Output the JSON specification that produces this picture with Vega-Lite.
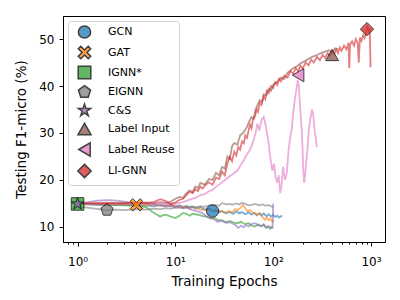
{
  "$schema": "https://vega.github.io/schema/vega-lite/v6.json",
  "width": 322,
  "height": 226,
  "autosize": {"type": "none"},
  "padding": {"left": 63, "top": 16, "right": 15, "bottom": 58},
  "config": {
    "font": "DejaVu Sans",
    "view": {"stroke": "black", "strokeWidth": 1},
    "axis": {"grid": false, "domainColor": "black", "tickColor": "black", "labelColor": "black", "titleColor": "black", "labelFontSize": 12, "titleFontSize": 13.5, "titleFontWeight": "normal", "labelFont": "DejaVu Sans", "titleFont": "DejaVu Sans"},
    "legend": {"orient": "none", "legendX": 5, "legendY": 5, "labelFontSize": 11, "labelColor": "black", "strokeColor": "#d0d0d0", "fillColor": "rgba(255,255,255,0.8)", "cornerRadius": 3, "padding": 4, "rowPadding": 0.5, "symbolOffset": 5, "labelOffset": 16}
  },
  "datasets": {
    "lines": [
      {"m":"GCN","e":1,"v":14.9},{"m":"GCN","e":1.5,"v":14.7},{"m":"GCN","e":2,"v":14.6},{"m":"GCN","e":3,"v":14.8},{"m":"GCN","e":4,"v":14.5},{"m":"GCN","e":5,"v":14.6},{"m":"GCN","e":6,"v":14.4},{"m":"GCN","e":7,"v":14.7},{"m":"GCN","e":8,"v":14.5},{"m":"GCN","e":9,"v":14.8},{"m":"GCN","e":10,"v":14.3},{"m":"GCN","e":11,"v":14.6},{"m":"GCN","e":12,"v":14.2},{"m":"GCN","e":13,"v":14.5},{"m":"GCN","e":14,"v":14.1},{"m":"GCN","e":15,"v":14.4},{"m":"GCN","e":16,"v":13.9},{"m":"GCN","e":18,"v":14.2},{"m":"GCN","e":20,"v":13.7},{"m":"GCN","e":22,"v":13.9},{"m":"GCN","e":24,"v":13.4},{"m":"GCN","e":26,"v":13.6},{"m":"GCN","e":28,"v":13.1},{"m":"GCN","e":30,"v":13.4},{"m":"GCN","e":33,"v":12.9},{"m":"GCN","e":36,"v":13.2},{"m":"GCN","e":39,"v":12.8},{"m":"GCN","e":42,"v":13.3},{"m":"GCN","e":45,"v":12.9},{"m":"GCN","e":48,"v":13.2},{"m":"GCN","e":52,"v":12.7},{"m":"GCN","e":56,"v":13.1},{"m":"GCN","e":60,"v":12.6},{"m":"GCN","e":64,"v":13.0},{"m":"GCN","e":68,"v":12.5},{"m":"GCN","e":72,"v":12.9},{"m":"GCN","e":76,"v":12.4},{"m":"GCN","e":80,"v":12.9},{"m":"GCN","e":85,"v":12.3},{"m":"GCN","e":90,"v":12.7},{"m":"GCN","e":95,"v":12.2},{"m":"GCN","e":100,"v":12.6},{"m":"GCN","e":105,"v":12.1},{"m":"GCN","e":110,"v":12.4},{"m":"GCN","e":115,"v":12.0},{"m":"GCN","e":120,"v":12.3},{"m":"GCN","e":123,"v":12.2},
      {"m":"GAT","e":1,"v":14.8},{"m":"GAT","e":1.5,"v":14.9},{"m":"GAT","e":2,"v":14.7},{"m":"GAT","e":3,"v":14.8},{"m":"GAT","e":4,"v":14.7},{"m":"GAT","e":5,"v":14.6},{"m":"GAT","e":6,"v":14.8},{"m":"GAT","e":7,"v":14.5},{"m":"GAT","e":8,"v":14.7},{"m":"GAT","e":9,"v":14.4},{"m":"GAT","e":10,"v":14.6},{"m":"GAT","e":11,"v":14.2},{"m":"GAT","e":12,"v":14.4},{"m":"GAT","e":14,"v":14.0},{"m":"GAT","e":16,"v":14.2},{"m":"GAT","e":18,"v":13.7},{"m":"GAT","e":20,"v":13.6},{"m":"GAT","e":22,"v":13.9},{"m":"GAT","e":25,"v":13.3},{"m":"GAT","e":28,"v":13.5},{"m":"GAT","e":32,"v":13.0},{"m":"GAT","e":35,"v":13.4},{"m":"GAT","e":38,"v":13.1},{"m":"GAT","e":41,"v":13.8},{"m":"GAT","e":44,"v":13.6},{"m":"GAT","e":47,"v":14.2},{"m":"GAT","e":49,"v":14.7},{"m":"GAT","e":52,"v":14.0},{"m":"GAT","e":55,"v":13.3},{"m":"GAT","e":58,"v":13.6},{"m":"GAT","e":62,"v":13.0},{"m":"GAT","e":66,"v":12.9},{"m":"GAT","e":70,"v":12.6},{"m":"GAT","e":74,"v":12.9},{"m":"GAT","e":78,"v":12.1},{"m":"GAT","e":82,"v":11.5},{"m":"GAT","e":86,"v":12.0},{"m":"GAT","e":90,"v":11.4},{"m":"GAT","e":94,"v":11.8},{"m":"GAT","e":98,"v":11.1},{"m":"GAT","e":101,"v":11.5},
      {"m":"IGNN*","e":1,"v":14.9},{"m":"IGNN*","e":2,"v":14.8},{"m":"IGNN*","e":3,"v":14.6},{"m":"IGNN*","e":4,"v":14.5},{"m":"IGNN*","e":5,"v":14.2},{"m":"IGNN*","e":5.5,"v":13.6},{"m":"IGNN*","e":6,"v":13.0},{"m":"IGNN*","e":6.5,"v":12.6},{"m":"IGNN*","e":7,"v":12.2},{"m":"IGNN*","e":7.5,"v":12.5},{"m":"IGNN*","e":8,"v":12.6},{"m":"IGNN*","e":9,"v":12.2},{"m":"IGNN*","e":10,"v":11.9},{"m":"IGNN*","e":11,"v":12.4},{"m":"IGNN*","e":12,"v":13.0},{"m":"IGNN*","e":13,"v":12.8},{"m":"IGNN*","e":14,"v":12.4},{"m":"IGNN*","e":15,"v":12.8},{"m":"IGNN*","e":17,"v":12.6},{"m":"IGNN*","e":19,"v":12.3},{"m":"IGNN*","e":21,"v":12.2},{"m":"IGNN*","e":23,"v":11.8},{"m":"IGNN*","e":25,"v":12.0},{"m":"IGNN*","e":27,"v":11.5},{"m":"IGNN*","e":30,"v":11.4},{"m":"IGNN*","e":33,"v":11.0},{"m":"IGNN*","e":36,"v":11.3},{"m":"IGNN*","e":40,"v":10.9},{"m":"IGNN*","e":43,"v":10.8},{"m":"IGNN*","e":47,"v":11.1},{"m":"IGNN*","e":51,"v":10.6},{"m":"IGNN*","e":56,"v":10.8},{"m":"IGNN*","e":60,"v":10.3},{"m":"IGNN*","e":65,"v":10.1},{"m":"IGNN*","e":70,"v":10.5},{"m":"IGNN*","e":75,"v":10.2},{"m":"IGNN*","e":80,"v":10.4},{"m":"IGNN*","e":85,"v":9.8},{"m":"IGNN*","e":89,"v":10.1},{"m":"IGNN*","e":93,"v":9.6},{"m":"IGNN*","e":97,"v":10.0},{"m":"IGNN*","e":100,"v":9.9},
      {"m":"EIGNN","e":1,"v":14.4},{"m":"EIGNN","e":1.5,"v":13.9},{"m":"EIGNN","e":2,"v":13.6},{"m":"EIGNN","e":2.5,"v":13.7},{"m":"EIGNN","e":3,"v":13.6},{"m":"EIGNN","e":4,"v":13.8},{"m":"EIGNN","e":5,"v":13.7},{"m":"EIGNN","e":6,"v":13.9},{"m":"EIGNN","e":7,"v":13.8},{"m":"EIGNN","e":8,"v":14.0},{"m":"EIGNN","e":9,"v":13.9},{"m":"EIGNN","e":10,"v":14.1},{"m":"EIGNN","e":12,"v":14.0},{"m":"EIGNN","e":14,"v":14.3},{"m":"EIGNN","e":16,"v":14.2},{"m":"EIGNN","e":18,"v":14.4},{"m":"EIGNN","e":20,"v":14.3},{"m":"EIGNN","e":22,"v":14.6},{"m":"EIGNN","e":25,"v":14.7},{"m":"EIGNN","e":28,"v":14.5},{"m":"EIGNN","e":30,"v":15.1},{"m":"EIGNN","e":33,"v":14.8},{"m":"EIGNN","e":36,"v":14.9},{"m":"EIGNN","e":38,"v":14.7},{"m":"EIGNN","e":42,"v":15.0},{"m":"EIGNN","e":45,"v":14.8},{"m":"EIGNN","e":48,"v":15.1},{"m":"EIGNN","e":52,"v":14.9},{"m":"EIGNN","e":56,"v":14.6},{"m":"EIGNN","e":61,"v":14.7},{"m":"EIGNN","e":66,"v":14.9},{"m":"EIGNN","e":72,"v":14.6},{"m":"EIGNN","e":78,"v":14.8},{"m":"EIGNN","e":84,"v":14.5},{"m":"EIGNN","e":90,"v":14.7},{"m":"EIGNN","e":95,"v":14.4},{"m":"EIGNN","e":100,"v":14.3},
      {"m":"C&S","e":1,"v":14.9},{"m":"C&S","e":1.3,"v":15.3},{"m":"C&S","e":1.6,"v":15.6},{"m":"C&S","e":2,"v":15.7},{"m":"C&S","e":2.5,"v":15.6},{"m":"C&S","e":3,"v":15.4},{"m":"C&S","e":4,"v":15.0},{"m":"C&S","e":5,"v":14.9},{"m":"C&S","e":6,"v":14.8},{"m":"C&S","e":7,"v":14.6},{"m":"C&S","e":8,"v":14.4},{"m":"C&S","e":9,"v":14.5},{"m":"C&S","e":10,"v":14.2},{"m":"C&S","e":11,"v":14.4},{"m":"C&S","e":12,"v":14.0},{"m":"C&S","e":13,"v":14.2},{"m":"C&S","e":14,"v":13.8},{"m":"C&S","e":15,"v":13.6},{"m":"C&S","e":17,"v":13.3},{"m":"C&S","e":19,"v":12.9},{"m":"C&S","e":21,"v":12.2},{"m":"C&S","e":23,"v":11.9},{"m":"C&S","e":25,"v":11.6},{"m":"C&S","e":27,"v":11.1},{"m":"C&S","e":30,"v":11.3},{"m":"C&S","e":33,"v":10.9},{"m":"C&S","e":36,"v":11.0},{"m":"C&S","e":38,"v":10.8},{"m":"C&S","e":41,"v":10.4},{"m":"C&S","e":44,"v":9.8},{"m":"C&S","e":47,"v":10.3},{"m":"C&S","e":50,"v":9.9},{"m":"C&S","e":53,"v":10.4},{"m":"C&S","e":56,"v":10.1},{"m":"C&S","e":60,"v":10.6},{"m":"C&S","e":65,"v":10.8},{"m":"C&S","e":70,"v":10.5},{"m":"C&S","e":75,"v":10.1},{"m":"C&S","e":80,"v":10.6},{"m":"C&S","e":85,"v":9.9},{"m":"C&S","e":90,"v":10.2},{"m":"C&S","e":95,"v":9.8},{"m":"C&S","e":98,"v":9.8},{"m":"C&S","e":99,"v":11.0},{"m":"C&S","e":100,"v":15.0},
      {"m":"Label Input","e":1,"v":14.9},{"m":"Label Input","e":2,"v":15.0},{"m":"Label Input","e":3,"v":15.1},{"m":"Label Input","e":4,"v":15.0},{"m":"Label Input","e":5,"v":15.2},{"m":"Label Input","e":6,"v":15.0},{"m":"Label Input","e":7,"v":15.3},{"m":"Label Input","e":8,"v":15.1},{"m":"Label Input","e":9,"v":15.4},{"m":"Label Input","e":10,"v":16.0},{"m":"Label Input","e":11,"v":16.4},{"m":"Label Input","e":12,"v":16.2},{"m":"Label Input","e":13,"v":17.2},{"m":"Label Input","e":14,"v":17.8},{"m":"Label Input","e":15,"v":17.4},{"m":"Label Input","e":16,"v":18.6},{"m":"Label Input","e":17,"v":18.3},{"m":"Label Input","e":18,"v":19.4},{"m":"Label Input","e":20,"v":19.0},{"m":"Label Input","e":22,"v":20.2},{"m":"Label Input","e":24,"v":20.0},{"m":"Label Input","e":26,"v":21.5},{"m":"Label Input","e":28,"v":21.0},{"m":"Label Input","e":30,"v":22.8},{"m":"Label Input","e":32,"v":22.4},{"m":"Label Input","e":34,"v":25.0},{"m":"Label Input","e":36,"v":24.5},{"m":"Label Input","e":38,"v":27.2},{"m":"Label Input","e":40,"v":27.9},{"m":"Label Input","e":43,"v":27.5},{"m":"Label Input","e":46,"v":29.5},{"m":"Label Input","e":50,"v":30.2},{"m":"Label Input","e":54,"v":31.3},{"m":"Label Input","e":57,"v":32.5},{"m":"Label Input","e":60,"v":33.4},{"m":"Label Input","e":63,"v":33.0},{"m":"Label Input","e":66,"v":35.0},{"m":"Label Input","e":70,"v":36.2},{"m":"Label Input","e":73,"v":37.0},{"m":"Label Input","e":77,"v":36.6},{"m":"Label Input","e":80,"v":38.2},{"m":"Label Input","e":85,"v":38.0},{"m":"Label Input","e":90,"v":39.4},{"m":"Label Input","e":95,"v":39.0},{"m":"Label Input","e":100,"v":40.3},{"m":"Label Input","e":110,"v":40.9},{"m":"Label Input","e":120,"v":41.8},{"m":"Label Input","e":130,"v":41.5},{"m":"Label Input","e":140,"v":42.8},{"m":"Label Input","e":150,"v":43.3},{"m":"Label Input","e":160,"v":43.8},{"m":"Label Input","e":175,"v":44.2},{"m":"Label Input","e":190,"v":44.8},{"m":"Label Input","e":210,"v":45.3},{"m":"Label Input","e":230,"v":45.8},{"m":"Label Input","e":250,"v":46.2},{"m":"Label Input","e":280,"v":46.6},{"m":"Label Input","e":310,"v":47.0},{"m":"Label Input","e":340,"v":47.3},{"m":"Label Input","e":370,"v":47.6},{"m":"Label Input","e":400,"v":47.2},{"m":"Label Input","e":430,"v":48.0},{"m":"Label Input","e":460,"v":47.8},
      {"m":"Label Reuse","e":1,"v":14.8},{"m":"Label Reuse","e":2,"v":14.9},{"m":"Label Reuse","e":3,"v":14.8},{"m":"Label Reuse","e":4,"v":15.0},{"m":"Label Reuse","e":5,"v":14.9},{"m":"Label Reuse","e":6,"v":15.0},{"m":"Label Reuse","e":8,"v":15.1},{"m":"Label Reuse","e":10,"v":15.0},{"m":"Label Reuse","e":12,"v":15.3},{"m":"Label Reuse","e":14,"v":15.8},{"m":"Label Reuse","e":16,"v":16.2},{"m":"Label Reuse","e":18,"v":16.8},{"m":"Label Reuse","e":20,"v":17.0},{"m":"Label Reuse","e":22,"v":17.6},{"m":"Label Reuse","e":24,"v":17.9},{"m":"Label Reuse","e":27,"v":18.8},{"m":"Label Reuse","e":30,"v":19.5},{"m":"Label Reuse","e":33,"v":20.2},{"m":"Label Reuse","e":36,"v":20.8},{"m":"Label Reuse","e":40,"v":21.5},{"m":"Label Reuse","e":43,"v":22.0},{"m":"Label Reuse","e":46,"v":23.0},{"m":"Label Reuse","e":50,"v":24.2},{"m":"Label Reuse","e":54,"v":25.5},{"m":"Label Reuse","e":58,"v":26.4},{"m":"Label Reuse","e":62,"v":28.0},{"m":"Label Reuse","e":66,"v":30.0},{"m":"Label Reuse","e":69,"v":32.0},{"m":"Label Reuse","e":72,"v":30.5},{"m":"Label Reuse","e":76,"v":32.8},{"m":"Label Reuse","e":80,"v":33.4},{"m":"Label Reuse","e":84,"v":31.5},{"m":"Label Reuse","e":89,"v":28.5},{"m":"Label Reuse","e":93,"v":25.0},{"m":"Label Reuse","e":98,"v":22.0},{"m":"Label Reuse","e":102,"v":23.5},{"m":"Label Reuse","e":106,"v":20.5},{"m":"Label Reuse","e":110,"v":19.4},{"m":"Label Reuse","e":114,"v":21.0},{"m":"Label Reuse","e":118,"v":17.2},{"m":"Label Reuse","e":122,"v":19.0},{"m":"Label Reuse","e":126,"v":22.8},{"m":"Label Reuse","e":132,"v":20.0},{"m":"Label Reuse","e":138,"v":21.5},{"m":"Label Reuse","e":143,"v":26.0},{"m":"Label Reuse","e":148,"v":28.5},{"m":"Label Reuse","e":155,"v":31.0},{"m":"Label Reuse","e":160,"v":34.0},{"m":"Label Reuse","e":166,"v":37.0},{"m":"Label Reuse","e":172,"v":39.0},{"m":"Label Reuse","e":178,"v":41.3},{"m":"Label Reuse","e":183,"v":40.0},{"m":"Label Reuse","e":188,"v":36.0},{"m":"Label Reuse","e":192,"v":33.0},{"m":"Label Reuse","e":196,"v":30.6},{"m":"Label Reuse","e":200,"v":26.0},{"m":"Label Reuse","e":203,"v":22.0},{"m":"Label Reuse","e":207,"v":19.4},{"m":"Label Reuse","e":212,"v":21.0},{"m":"Label Reuse","e":218,"v":24.0},{"m":"Label Reuse","e":225,"v":27.0},{"m":"Label Reuse","e":232,"v":31.0},{"m":"Label Reuse","e":240,"v":33.0},{"m":"Label Reuse","e":250,"v":35.0},{"m":"Label Reuse","e":258,"v":33.5},{"m":"Label Reuse","e":265,"v":30.6},{"m":"Label Reuse","e":272,"v":29.0},{"m":"Label Reuse","e":280,"v":27.0},
      {"m":"LI-GNN","e":1,"v":15.0},{"m":"LI-GNN","e":2,"v":15.1},{"m":"LI-GNN","e":3,"v":15.0},{"m":"LI-GNN","e":4,"v":15.2},{"m":"LI-GNN","e":5,"v":15.1},{"m":"LI-GNN","e":6,"v":15.3},{"m":"LI-GNN","e":7,"v":15.9},{"m":"LI-GNN","e":8,"v":15.5},{"m":"LI-GNN","e":9,"v":14.8},{"m":"LI-GNN","e":10,"v":15.2},{"m":"LI-GNN","e":11,"v":15.8},{"m":"LI-GNN","e":12,"v":16.0},{"m":"LI-GNN","e":13,"v":16.8},{"m":"LI-GNN","e":14,"v":17.5},{"m":"LI-GNN","e":15,"v":17.2},{"m":"LI-GNN","e":16,"v":18.0},{"m":"LI-GNN","e":17,"v":17.6},{"m":"LI-GNN","e":18,"v":18.6},{"m":"LI-GNN","e":19,"v":18.2},{"m":"LI-GNN","e":20,"v":18.8},{"m":"LI-GNN","e":22,"v":19.5},{"m":"LI-GNN","e":24,"v":19.0},{"m":"LI-GNN","e":26,"v":20.5},{"m":"LI-GNN","e":28,"v":20.2},{"m":"LI-GNN","e":30,"v":21.8},{"m":"LI-GNN","e":32,"v":21.0},{"m":"LI-GNN","e":34,"v":23.5},{"m":"LI-GNN","e":36,"v":24.9},{"m":"LI-GNN","e":38,"v":24.0},{"m":"LI-GNN","e":40,"v":26.0},{"m":"LI-GNN","e":42,"v":25.2},{"m":"LI-GNN","e":44,"v":27.0},{"m":"LI-GNN","e":46,"v":26.5},{"m":"LI-GNN","e":48,"v":28.2},{"m":"LI-GNN","e":50,"v":27.8},{"m":"LI-GNN","e":52,"v":29.5},{"m":"LI-GNN","e":54,"v":29.0},{"m":"LI-GNN","e":56,"v":30.5},{"m":"LI-GNN","e":58,"v":31.8},{"m":"LI-GNN","e":60,"v":31.0},{"m":"LI-GNN","e":62,"v":32.8},{"m":"LI-GNN","e":65,"v":33.5},{"m":"LI-GNN","e":68,"v":35.0},{"m":"LI-GNN","e":70,"v":34.5},{"m":"LI-GNN","e":73,"v":36.4},{"m":"LI-GNN","e":76,"v":36.0},{"m":"LI-GNN","e":80,"v":37.8},{"m":"LI-GNN","e":83,"v":37.2},{"m":"LI-GNN","e":86,"v":39.0},{"m":"LI-GNN","e":90,"v":38.5},{"m":"LI-GNN","e":95,"v":40.0},{"m":"LI-GNN","e":100,"v":39.6},{"m":"LI-GNN","e":105,"v":40.8},{"m":"LI-GNN","e":110,"v":40.2},{"m":"LI-GNN","e":115,"v":41.5},{"m":"LI-GNN","e":120,"v":41.0},{"m":"LI-GNN","e":130,"v":42.2},{"m":"LI-GNN","e":140,"v":41.8},{"m":"LI-GNN","e":150,"v":43.2},{"m":"LI-GNN","e":160,"v":42.6},{"m":"LI-GNN","e":170,"v":43.8},{"m":"LI-GNN","e":180,"v":43.2},{"m":"LI-GNN","e":190,"v":44.3},{"m":"LI-GNN","e":200,"v":43.7},{"m":"LI-GNN","e":215,"v":45.0},{"m":"LI-GNN","e":230,"v":44.4},{"m":"LI-GNN","e":245,"v":45.6},{"m":"LI-GNN","e":260,"v":45.0},{"m":"LI-GNN","e":280,"v":46.2},{"m":"LI-GNN","e":300,"v":45.5},{"m":"LI-GNN","e":320,"v":46.6},{"m":"LI-GNN","e":340,"v":46.0},{"m":"LI-GNN","e":360,"v":47.0},{"m":"LI-GNN","e":380,"v":46.4},{"m":"LI-GNN","e":400,"v":47.3},{"m":"LI-GNN","e":420,"v":46.8},{"m":"LI-GNN","e":440,"v":47.8},{"m":"LI-GNN","e":460,"v":47.0},{"m":"LI-GNN","e":480,"v":48.2},{"m":"LI-GNN","e":500,"v":47.5},{"m":"LI-GNN","e":530,"v":48.6},{"m":"LI-GNN","e":560,"v":47.8},{"m":"LI-GNN","e":590,"v":49.2},{"m":"LI-GNN","e":600,"v":43.8},{"m":"LI-GNN","e":610,"v":48.8},{"m":"LI-GNN","e":640,"v":49.5},{"m":"LI-GNN","e":670,"v":48.6},{"m":"LI-GNN","e":700,"v":50.0},{"m":"LI-GNN","e":730,"v":49.2},{"m":"LI-GNN","e":750,"v":45.0},{"m":"LI-GNN","e":770,"v":50.3},{"m":"LI-GNN","e":800,"v":49.6},{"m":"LI-GNN","e":830,"v":50.8},{"m":"LI-GNN","e":860,"v":50.2},{"m":"LI-GNN","e":890,"v":51.5},{"m":"LI-GNN","e":920,"v":52.5},{"m":"LI-GNN","e":950,"v":51.8},{"m":"LI-GNN","e":970,"v":52.2},{"m":"LI-GNN","e":990,"v":44.0}
    ],
    "markers": [
      {"m":"GCN","e":24,"v":13.4},
      {"m":"GAT","e":4,"v":14.7},
      {"m":"IGNN*","e":1,"v":14.9},
      {"m":"EIGNN","e":2,"v":13.6},
      {"m":"C&S","e":1,"v":14.9},
      {"m":"Label Input","e":400,"v":46.6},
      {"m":"Label Reuse","e":180,"v":42.3},
      {"m":"LI-GNN","e":910,"v":52.1}
    ]
  },
  "encoding": {
    "x": {"field": "e", "type": "quantitative", "title": "Training Epochs",
      "scale": {"type": "log", "domain": [0.71, 1390], "nice": false},
      "axis": {"values": [0.8,0.9,1,2,3,4,5,6,7,8,9,10,20,30,40,50,60,70,80,90,100,200,300,400,500,600,700,800,900,1000],
        "labelExpr": "datum.value == 1 ? '10⁰' : datum.value == 10 ? '10¹' : datum.value == 100 ? '10²' : datum.value == 1000 ? '10³' : ''",
        "tickSize": {"condition": {"test": "datum.value == 1 || datum.value == 10 || datum.value == 100 || datum.value == 1000", "value": 4}, "value": 2},
        "labelOverlap": false, "labelFlush": false, "labelPadding": 10, "titlePadding": 7}},
    "y": {"field": "v", "type": "quantitative", "title": "Testing F1-micro (%)",
      "scale": {"domain": [6.8, 54.9], "nice": false, "zero": false},
      "axis": {"values": [10,20,30,40,50], "tickSize": 4, "labelPadding": 5, "titlePadding": 10}}
  },
  "layer": [
    {
      "data": {"name": "lines"},
      "mark": {"type": "line", "strokeWidth": 1.8, "opacity": 0.6},
      "encoding": {"stroke": {"field": "m", "type": "nominal", "legend": null,
        "scale": {"domain": ["LI-GNN","Label Reuse","Label Input","C&S","EIGNN","IGNN*","GAT","GCN"],
          "range": ["#d62728","#e377c2","#8c564b","#9467bd","#7f7f7f","#2ca02c","#ff7f0e","#1f77b4"]}}}
    },
    {
      "data": {"name": "markers"},
      "mark": {"type": "point", "filled": true, "stroke": "black", "strokeWidth": 1, "opacity": 0.75},
      "encoding": {
        "color": {"field": "m", "type": "nominal", "title": null,
          "scale": {"domain": ["GCN","GAT","IGNN*","EIGNN","C&S","Label Input","Label Reuse","LI-GNN"],
            "range": ["#1f77b4","#ff7f0e","#2ca02c","#7f7f7f","#9467bd","#8c564b","#e377c2","#d62728"]}},
        "shape": {"field": "m", "type": "nominal", "title": null,
          "scale": {"domain": ["GCN","GAT","IGNN*","EIGNN","C&S","Label Input","Label Reuse","LI-GNN"],
            "range": ["circle",
              "M-0.6,-1L0,-0.4L0.6,-1L1,-0.6L0.4,0L1,0.6L0.6,1L0,0.4L-0.6,1L-1,0.6L-0.4,0L-1,-0.6Z",
              "square",
              "M0,-1L0.951,-0.309L0.588,0.809L-0.588,0.809L-0.951,-0.309Z",
              "M0,-1L0.225,-0.309L0.951,-0.309L0.363,0.118L0.588,0.809L0,0.382L-0.588,0.809L-0.363,0.118L-0.951,-0.309L-0.225,-0.309Z",
              "triangle-up", "triangle-left", "diamond"]}},
        "size": {"field": "m", "type": "nominal", "title": null,
          "scale": {"domain": ["GCN","GAT","IGNN*","EIGNN","C&S","Label Input","Label Reuse","LI-GNN"],
            "range": [150, 177, 170, 185, 150, 196, 196, 320]}}
      }
    }
  ]
}
